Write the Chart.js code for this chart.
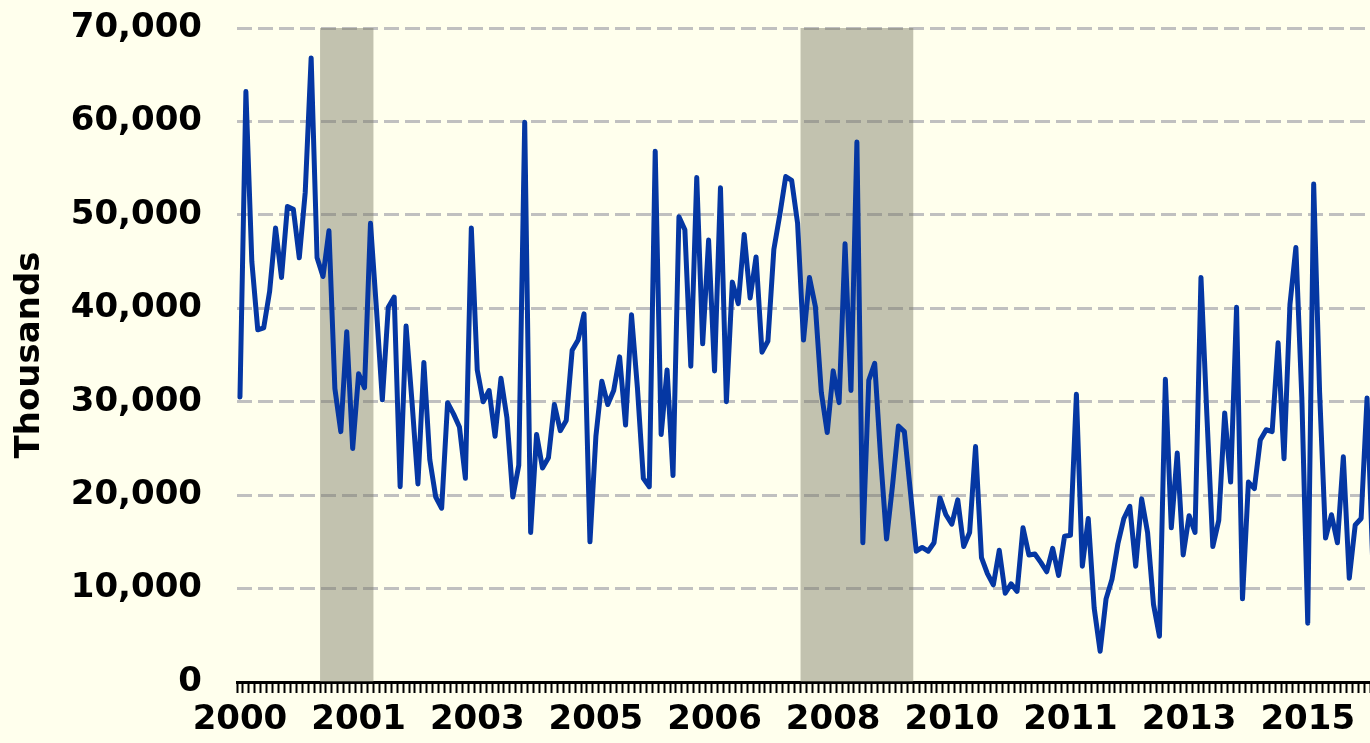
<!DOCTYPE html>
<html><head><meta charset="utf-8">
<script src="https://cdn.jsdelivr.net/npm/chart.js@4.4.1/dist/chart.umd.min.js"></script>
<style>
html,body{margin:0;padding:0;background:#FFFFED;overflow:hidden;width:1370px;height:743px;}
#wrap{position:absolute;left:0;top:0;width:1380px;height:743px;}
</style></head><body>
<div id="wrap"><canvas id="c"></canvas></div>
<script>
// Monthly series, Jan 2000 .. Dec 2015 (thousands)
const startYear = 2000;
const values = [
 30500,63200,45000,37700,37900,41800,48600,43300,50900,50600,45400,52400,
 66800,45400,43400,48300,31400,26800,37500,25000,33000,31500,49100,40000,
 30200,40100,41200,20900,38100,30000,21200,34200,23800,19800,18600,29900,
 28700,27300,21800,48600,33400,30000,31200,26300,32500,28300,19800,23200,
 59900,16000,26500,22900,24000,29700,26900,28000,35500,36600,39400,15000,
 26300,32200,29700,31200,34800,27500,39300,31500,21800,20900,56800,26500,
 33400,22100,49800,48400,33800,54000,36200,47300,33300,52900,30000,42800,
 40500,47900,41100,45500,35300,36500,46300,50000,54100,53700,49100,36600,
 43300,40200,31000,26700,33300,29900,46900,31200,57800,14900,32300,34100,
 24000,15300,21000,27400,26800,20500,14000,14400,14000,14900,19700,17900,
 16900,19500,14500,16000,25200,13300,11600,10400,14100,9500,10500,9700,
 16500,13600,13700,12800,11800,14300,11400,15600,15700,30800,12400,17500,
 7900,3300,8900,11000,14800,17500,18800,12400,19600,16000,8300,4900,
 32400,16500,24500,13600,17800,16000,43300,28500,14500,17300,28800,21400,
 40100,8900,21400,20700,25900,27000,26800,36300,23900,40400,46500,30500,
 6300,53300,31000,15400,17900,14900,24100,11100,16800,17500,30400,12000
];
const recessions = [['2001-03','2001-11'],['2007-12','2009-06']];
const yTicks = [0,10000,20000,30000,40000,50000,60000,70000];
const labelEvery = 20;
const yTitle = 'Thousands';

const months = values.map((_, i) => {
  const y = startYear + Math.floor(i / 12), m = (i % 12) + 1;
  return y + '-' + String(m).padStart(2, '0');
});

const shadePlugin = {
  id: 'shade',
  beforeDatasetsDraw(chart) {
    const xs = chart.scales.x, a = chart.chartArea, ctx = chart.ctx;
    const half = (xs.getPixelForValue(1) - xs.getPixelForValue(0)) / 2;
    ctx.save();
    ctx.fillStyle = 'rgba(120,120,100,0.45)';
    recessions.forEach(([s, e]) => {
      const l = xs.getPixelForValue(months.indexOf(s)) - half;
      const r = xs.getPixelForValue(months.indexOf(e)) + half;
      ctx.fillRect(l, a.top, r - l, a.bottom - a.top);
    });
    ctx.restore();
  }
};

Chart.defaults.font.family = "'DejaVu Sans', Verdana, sans-serif";
Chart.defaults.font.weight = 'bold';
Chart.defaults.font.size = 34;
Chart.defaults.color = '#000';

new Chart(document.getElementById('c'), {
  type: 'line',
  data: {
    labels: months,
    datasets: [{
      data: values,
      borderColor: '#0537A3',
      borderWidth: 5,
      pointRadius: 0,
      tension: 0,
      borderJoinStyle: 'round',
      borderCapStyle: 'round'
    }]
  },
  options: {
    responsive: true,
    maintainAspectRatio: false,
    animation: false,
    events: [],
    layout: { padding: { top: 28, left: 0, right: 0, bottom: 0 } },
    plugins: { legend: { display: false }, tooltip: { enabled: false } },
    scales: {
      x: {
        type: 'category',
        offset: true,
        z: 1,
        grid: { offset: true, drawOnChartArea: false, drawTicks: true, tickLength: 11, tickColor: '#000', tickWidth: 2 },
        border: { display: true, color: '#000', width: 3 },
        ticks: {
          autoSkip: false, maxRotation: 0, minRotation: 0, padding: 7,
          font: { size: 34, weight: 'bold' },
          callback: (v, i) => (i % labelEvery === 0 ? months[i].slice(0, 4) : '')
        },
        afterFit: s => { s.height = 61; }
      },
      y: {
        min: yTicks[0], max: yTicks[yTicks.length - 1],
        afterBuildTicks: s => { s.ticks = yTicks.map(v => ({ value: v })); },
        grid: { color: '#C0C0C0', lineWidth: 3, drawTicks: true, tickLength: 32, tickColor: 'rgba(0,0,0,0)' },
        border: { display: false, dash: [15, 6] },
        ticks: {
          padding: 3,
          font: { size: 34, weight: 'bold' },
          callback: v => Number(v).toLocaleString('en-US')
        },
        title: { display: true, text: yTitle, font: { size: 34, weight: 'bold' }, padding: { top: 10, bottom: 0 } },
        afterFit: s => { s.width = 237; }
      }
    }
  },
  plugins: [shadePlugin]
});
</script>
</body></html>
